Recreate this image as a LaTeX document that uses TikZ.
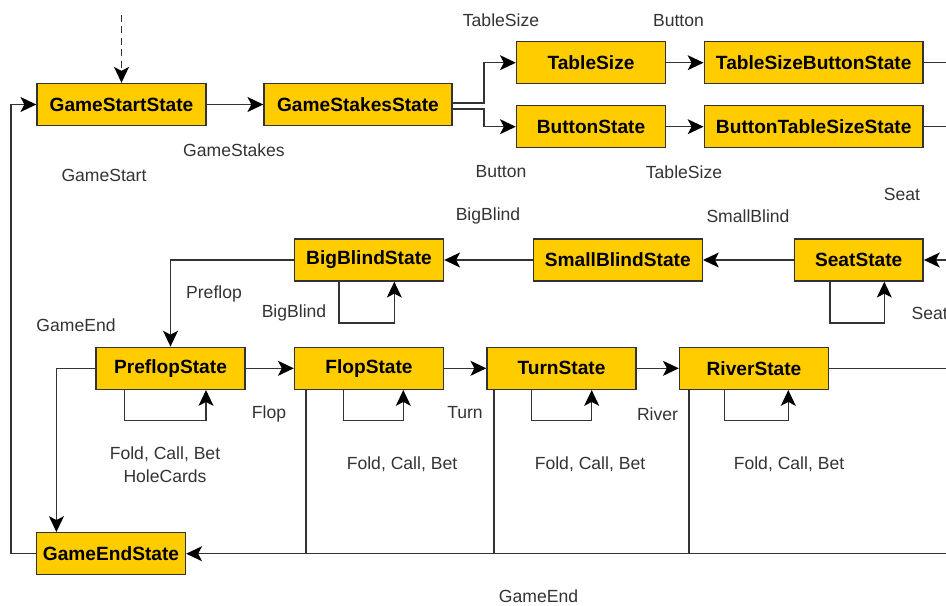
\documentclass[tikz,border=0pt]{standalone}
\usepackage{fontspec}
\setmainfont{Liberation Sans}
\usetikzlibrary{arrows.meta,calc}
\definecolor{stategold}{RGB}{255,204,0}
\definecolor{wire}{RGB}{51,51,51}

\begin{document}
\begin{tikzpicture}[
    x=0.02cm, y=-0.02cm,
    state/.style = {draw=wire, fill=stategold, line width=0.8pt, minimum height=0.84cm,
                    inner sep=0pt, font=\fontsize{10.9}{13}\selectfont\bfseries},
    lbl/.style   = {text=wire, font=\fontsize{10}{13}\selectfont, align=center, inner sep=0pt},
    plain/.style = {draw=wire, line width=0.8pt},
    link/.style  = {plain, -{Stealth[length=9pt,width=8.5pt,inset=2.2pt,black]}},
]
\useasboundingbox (0,0) rectangle (946,605);
\clip (0,0) rectangle (946,605);

% states
\node [state, minimum width=3.38cm] (gamestart)  at (121.5,104.5) {GameStartState};
\node [state, minimum width=3.76cm] (gamestakes) at (358,104.5)   {GameStakesState};
\node [state, minimum width=2.98cm] (tablesize)  at (591,62.7)    {TableSize};
\node [state, minimum width=4.38cm] (tsbutton)   at (813.7,62.7)  {TableSizeButtonState};
\node [state, minimum width=2.98cm] (button)     at (591,126.7)   {ButtonState};
\node [state, minimum width=4.38cm] (btablesize) at (813.7,126.7) {ButtonTableSizeState};
\node [state, minimum width=2.58cm] (seat)       at (858.7,260)   {SeatState};
\node [state, minimum width=3.38cm] (smallblind) at (617.8,260)   {SmallBlindState};
\node [state, minimum width=2.98cm] (bigblind)   at (369,260)     {BigBlindState};
\node [state, minimum width=2.98cm] (preflop)    at (170.5,368.3) {PreflopState};
\node [state, minimum width=2.98cm] (flop)       at (369,368.3)   {FlopState};
\node [state, minimum width=2.98cm] (turn)       at (561.5,368.3) {TurnState};
\node [state, minimum width=2.98cm] (river)      at (754,368.3)   {RiverState};
\node [state, minimum width=2.98cm] (gameend)    at (111,553.7)   {GameEndState};

% free ends
\coordinate (entry)    at (121.5,15);
\coordinate (tsout)    at (960,62.7);
\coordinate (btsout)   at (960,126.7);
\coordinate (seatin)   at (960,260);
\coordinate (riverout) at (960,368.3);
\coordinate (endin)    at (960,553.7);
\coordinate (endtop)   at ($(gameend.north west)+(20.6,0)$);
\coordinate (flopdrop) at ($(flop.south west)+(12,0)$);
\coordinate (turndrop) at ($(turn.south west)+(7.7,0)$);
\coordinate (riverdrop) at ($(river.south west)+(10.3,0)$);

% top rows
\draw [link, dash pattern=on 4pt off 2.5pt] (entry) -- (gamestart);
\draw [link] (gamestart) -- (gamestakes);
\draw [link] ([yshift=0.8pt]gamestakes.east) -- ++(31.5,0) |- (tablesize.west);
\draw [link] ([yshift=-2.6pt]gamestakes.east) -- ++(31.5,0) |- (button.west);
\draw [link] (tablesize) -- (tsbutton);
\draw [link] (button) -- (btablesize);
\draw [plain] (tsbutton.east) -- (tsout);
\draw [plain] (btablesize.east) -- (btsout);

% blinds
\draw [link] (seatin) -- (seat.east);
\draw [link] ($(seat.south)+(-28.7,0)$) -- ++(0,41.3) -| ($(seat.south)+(25.6,0)$);
\draw [link] (seat) -- (smallblind);
\draw [link] (smallblind) -- (bigblind);
\draw [link] ($(bigblind.south)+(-30,0)$) -- ++(0,41.3) -| ($(bigblind.south)+(25.3,0)$);
\draw [link] (bigblind.west) -| (preflop.north);

% betting rounds
\draw [link] (preflop) -- (flop);
\draw [link] (flop) -- (turn);
\draw [link] (turn) -- (river);
\draw [plain] (river.east) -- (riverout);
\draw [link] ($(preflop.south)+(-46.2,0)$) -- ++(0,30.7) -| ($(preflop.south)+(35.5,0)$);
\draw [link] ($(flop.south)+(-25.7,0)$) -- ++(0,30.7) -| ($(flop.south)+(34.3,0)$);
\draw [link] ($(turn.south)+(-29.8,0)$) -- ++(0,30.7) -| ($(turn.south)+(30.2,0)$);
\draw [link] ($(river.south)+(-29.7,0)$) -- ++(0,30.7) -| ($(river.south)+(34.3,0)$);

% game end
\draw [link] (preflop.west) -| (endtop);
\draw [link] (endin) -- (gameend.east);
\draw [plain] (flopdrop) -- (flopdrop |- gameend.east);
\draw [plain] (turndrop) -- (turndrop |- gameend.east);
\draw [plain] (riverdrop) -- (riverdrop |- gameend.east);
\draw [link] (gameend.west) -- ++(-24.7,0) |- (gamestart.west);

% labels
\node [lbl] (lgamestart)  at (104,175)   {GameStart};
\node [lbl] (lgamestakes) at (234,150)   {GameStakes};
\node [lbl] (ltable1)     at (501,20.7)  {TableSize};
\node [lbl] (lbutton1)    at (678.5,20.7) {Button};
\node [lbl] (lbutton2)    at (501,172)   {Button};
\node [lbl] (ltable2)     at (684,172)   {TableSize};
\node [lbl] (lseat1)      at (902,194)   {Seat};
\node [lbl] (lsmall)      at (748,216)   {SmallBlind};
\node [lbl] (lbig1)       at (488,216)   {BigBlind};
\node [lbl] (lbig2)       at (294,313)   {BigBlind};
\node [lbl] (lseat2)      at (929.7,313) {Seat};
\node [lbl] (lpreflop)    at (214,294)   {Preflop};
\node [lbl] (lend1)       at (76,325)    {GameEnd};
\node [lbl] (lflop)       at (269,414)   {Flop};
\node [lbl] (lturn)       at (465,413)   {Turn};
\node [lbl] (lriver)      at (657.5,414) {River};
\node [lbl] (lbet1)       at (165,464.5) {Fold, Call, Bet\\HoleCards};
\node [lbl] (lbet2)       at (402,464)   {Fold, Call, Bet};
\node [lbl] (lbet3)       at (590,464)   {Fold, Call, Bet};
\node [lbl] (lbet4)       at (789,464)   {Fold, Call, Bet};
\node [lbl] (lend2)       at (538.5,596) {GameEnd};
\end{tikzpicture}
\end{document}
